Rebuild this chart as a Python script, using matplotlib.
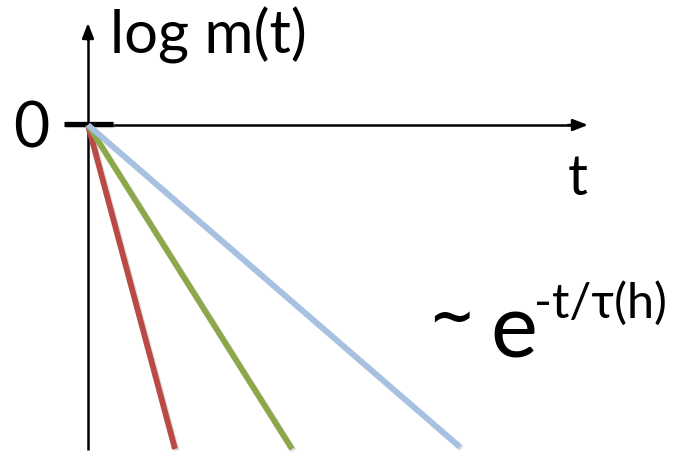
import matplotlib
matplotlib.use("Agg")
import matplotlib.pyplot as plt
import matplotlib.patheffects as pe

# decay of log m(t) for three fields h: end point of each straight line
t_end = [0.87, 2.04, 3.72]
logm_end = [-3.24, -3.24, -3.22]
colors = ["#B94A45", "#8CA84A", "#A6C1E2"]

FONT = "Lato"

fig = plt.figure(figsize=(6.86, 4.55), dpi=100)
ax = fig.add_axes([0, 0, 1, 1])
ax.set_xlim(-0.88, 5.98)
ax.set_ylim(-3.30, 1.25)
ax.axis("off")

shadow = [pe.SimpleLineShadow(offset=(1.2, -1.2), alpha=0.25, shadow_color="gray"), pe.Normal()]

# axes with arrow heads
ax.plot([0, 0], [-3.25, 0.95], color="black", lw=1.8, solid_capstyle="butt")
ax.plot([0, 4.86], [0, 0], color="black", lw=1.8, solid_capstyle="butt")
ax.annotate("", xy=(0, 1.02), xytext=(0, 0.85),
            arrowprops=dict(arrowstyle="-|>,head_length=0.9,head_width=0.35",
                            color="black", lw=1.8, shrinkA=0, shrinkB=0))
ax.annotate("", xy=(5.0, 0.0), xytext=(4.8, 0.0),
            arrowprops=dict(arrowstyle="-|>,head_length=0.9,head_width=0.35",
                            color="black", lw=1.8, shrinkA=0, shrinkB=0))

# tick at zero
ax.plot([-0.24, 0.25], [0.015, 0.015], color="black", lw=3.8,
        solid_capstyle="butt", path_effects=shadow)

# decay lines
for te, le, c in zip(t_end, logm_end, colors):
    ax.plot([0, te], [0, le], color=c, lw=4.2, solid_capstyle="butt",
            path_effects=shadow, zorder=3)

ax.text(0.22, 0.71, "log m(t)", fontsize=43, family=FONT, ha="left", va="baseline")
ax.text(-0.39, -0.22, "0", fontsize=45, family=FONT, ha="right", va="baseline")
ax.text(4.90, -0.70, "t", fontsize=40, family=FONT, ha="center", va="baseline")
ax.text(3.40, -2.09, "~", fontsize=40, family="DejaVu Sans", ha="left", va="baseline",
        fontweight="bold")
ax.text(4.02, -2.33, "e", fontsize=64, family=FONT, ha="left", va="baseline")
ax.text(4.46, -1.93, "-t/\u03c4(h)", fontsize=35, family=FONT, ha="left", va="baseline")

fig.savefig("out.png", dpi=100)
